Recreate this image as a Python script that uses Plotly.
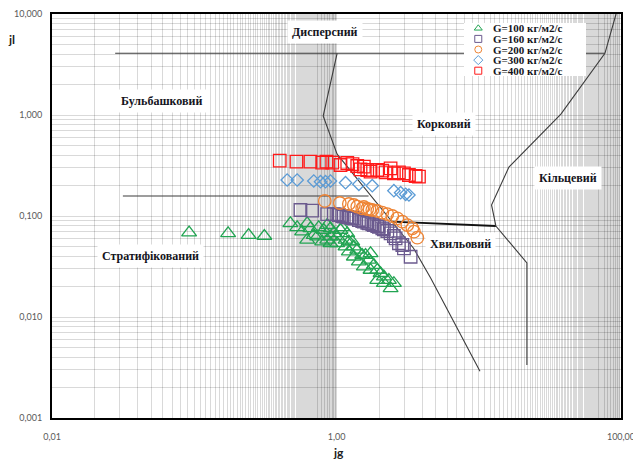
import numpy as np
import plotly.graph_objects as go

# ---- measured points: superficial gas velocity jg and liquid velocity jl ----
names = ["G=100 кг/м2/с", "G=160 кг/м2/с", "G=200 кг/м2/с", "G=300 кг/м2/с", "G=400 кг/м2/с"]

jg_100 = [0.092, 0.173, 0.241, 0.311,
          0.474, 0.529, 0.622, 0.656, 0.573, 0.622, 0.750, 0.814, 0.860, 0.907,
          0.957, 1.067, 1.011, 1.097, 1.190, 0.731, 0.793, 0.860, 0.907, 1.011,
          1.157, 1.221, 1.290, 1.324, 1.399, 1.517, 1.600, 1.735, 1.689, 1.831,
          1.934, 2.041, 2.154, 2.335, 2.532, 2.400, 1.735, 1.557, 1.934, 2.154,
          1.221, 1.324, 1.436, 1.157, 0.907, 0.692]
jl_100 = [0.0684, 0.0674, 0.0648, 0.0634,
          0.0847, 0.0773, 0.0847, 0.0755, 0.0699, 0.0579, 0.0773, 0.0727, 0.0814, 0.0755,
          0.0674, 0.0727, 0.0624, 0.0773, 0.0674, 0.0624, 0.0557, 0.0579, 0.0537, 0.0537,
          0.0579, 0.0557, 0.0557, 0.0497, 0.0461, 0.0411, 0.0411, 0.0427, 0.0367, 0.0327,
          0.0292, 0.0271, 0.0251, 0.0232, 0.0216, 0.0192, 0.0292, 0.0315, 0.0232, 0.0216,
          0.0443, 0.0395, 0.0353, 0.0497, 0.0624, 0.0648]

jg_160 = [0.558, 0.674, 0.860, 0.957, 1.038, 1.126, 1.221, 1.324, 1.436, 1.557,
          1.689, 1.831, 1.986, 2.154, 2.275, 2.400, 2.603, 2.747, 2.979, 3.320,
          1.011, 1.097, 1.190, 1.290, 1.517, 1.645, 1.784, 1.934, 2.098, 2.532, 2.902]
jl_160 = [0.1147, 0.1129, 0.1046, 0.1046, 0.1023, 0.0984, 0.0962, 0.0940, 0.0913, 0.0878,
          0.0847, 0.0814, 0.0783, 0.0738, 0.0710, 0.0674, 0.0601, 0.0537, 0.0479, 0.0395,
          0.1040, 0.1000, 0.0978, 0.0955, 0.0890, 0.0857, 0.0826, 0.0795, 0.0755, 0.0634, 0.0516]

jg_200 = [0.827, 1.055, 1.221, 1.324, 1.399, 1.517, 1.645, 1.784, 1.934, 2.098,
          2.275, 2.468, 2.676, 2.902, 3.147, 3.413, 3.701, 1.557, 1.708, 3.503]
jl_200 = [0.1408, 0.1345, 0.1315, 0.1285, 0.1237, 0.1192, 0.1173, 0.1147, 0.1121, 0.1078,
          0.1046, 0.1000, 0.0949, 0.0878, 0.0814, 0.0755, 0.0610, 0.1228, 0.1160, 0.0699]

jg_300 = [0.450, 0.529, 0.692, 0.772, 0.837, 0.907, 1.157, 1.436, 1.784, 2.532, 2.823, 3.062, 3.230]
jl_300 = [0.2272, 0.2272, 0.2221, 0.2186, 0.2186, 0.2221, 0.2137, 0.2060, 0.1995, 0.1780, 0.1701, 0.1640, 0.1614]

jg_400 = [0.399, 0.523, 0.656, 0.793, 0.933, 1.067, 1.399, 1.476, 1.557, 1.645, 1.735, 1.934,
          2.098, 2.213, 2.400, 2.532, 2.747, 2.979, 3.230, 3.600, 3.799, 0.850, 1.190, 1.296]
jl_400 = [0.3527, 0.3447, 0.3447, 0.3370, 0.3370, 0.3198, 0.3126, 0.2900, 0.3076, 0.2854, 0.2745, 0.2854,
          0.2809, 0.2708, 0.2967, 0.2647, 0.2708, 0.2647, 0.2546, 0.2489, 0.2449, 0.3447, 0.3347, 0.3270]

# ---- flow-regime boundaries (jg, jl) ----
bnd_dispersed_jg = [0.0278, 77.1]
bnd_dispersed_jl = [4.08, 4.08]
bnd_slug_jg = [1.01, 0.806, 1.01, 2.40, 3.48, 4.59, 10.2]
bnd_slug_jl = [4.08, 0.977, 0.41, 0.091, 0.048, 0.0243, 0.0029]
bnd_strat_jg = [0.0315, 1.68]
bnd_strat_jl = [0.158, 0.158]
bnd_wavy_jg = [2.44, 13.2]
bnd_wavy_jl = [0.088, 0.0796]
bnd_annular_jg = [21.8, 21.8, 13.2, 12.3, 16.3, 37.8, 77.1, 92.3]
bnd_annular_jl = [0.00335, 0.0343, 0.0796, 0.1286, 0.305, 1.02, 4.08, 10.0]

# ---- regime labels ----
regime_names = ["Дисперсний", "Бульбашковий", "Корковий", "Кільцевий", "Хвильовий", "Стратифікований"]
regime_jg = [0.83, 0.0592, 5.67, 42.2, 7.43, 0.049]
regime_jl = [6.68, 1.385, 0.815, 0.239, 0.0528, 0.0402]

# ---- axis ticks ----
x_ticks = [0.01, 1, 100]
x_ticktext = ["0,01", "1,00", "100,00"]
y_ticks = [0.001, 0.01, 0.1, 1, 10]
y_ticktext = ["0,001", "0,010", "0,100", "1,000", "10,000"]

# base-100 log axis: minor lines at every hundredth step of the major unit
x_minor = [k * 0.01 for k in range(2, 100)] + [float(k) for k in range(2, 100)]
y_minor = [m * 10.0 ** e for e in range(-3, 1) for m in range(2, 10)]

W, H = 633, 462
ML, MR, MT, MB = 52, 12, 14, 44
PW, PH = W - ML - MR, H - MT - MB


def px_x(p):
    return (p - ML) / PW


def px_y(p):
    return (H - MB - p) / PH


grid = "rgba(0,0,0,0.15)"
line_col = "#3c3c3c"
label_col = "#141420"

fig = go.Figure()

for xs, ys, w, c in [
    (bnd_dispersed_jg, bnd_dispersed_jl, 1.1, line_col),
    (bnd_slug_jg, bnd_slug_jl, 1.1, line_col),
    (bnd_strat_jg, bnd_strat_jl, 1.1, line_col),
    (bnd_wavy_jg, bnd_wavy_jl, 1.8, "#111111"),
    (bnd_annular_jg, bnd_annular_jl, 1.1, line_col),
]:
    fig.add_trace(go.Scatter(x=xs, y=ys, mode="lines", line=dict(color=c, width=w),
                             hoverinfo="skip", showlegend=False))

styles = [
    ("triangle-up-open", "#22a452", 13),
    ("square-open", "#6b5a8e", 12.5),
    ("circle-open", "#ee8434", 12.5),
    ("diamond-open", "#5b9bd5", 9.5),
    ("square-open", "#ff1a1a", 12.5),
]
data = [(jg_100, jl_100), (jg_160, jl_160), (jg_200, jl_200), (jg_300, jl_300), (jg_400, jl_400)]

for name, (xs, ys), (sym, col, size) in zip(names, data, styles):
    fig.add_trace(go.Scatter(x=xs, y=ys, mode="markers", name=name,
                             marker=dict(symbol=sym, size=size, color=col, line=dict(width=1.3)),
                             showlegend=False))

# legend panel drawn as its own small subplot so it sits above the map
lx0, lx1, ly0, ly1 = 464, 586, 23, 76
fig.add_trace(go.Scatter(x=[0, 1, 1, 0, 0], y=[0, 0, 1, 1, 0], fill="toself", fillcolor="white",
                         mode="lines", line=dict(width=0, color="white"),
                         xaxis="x2", yaxis="y2", hoverinfo="skip", showlegend=False))
n = len(names)
row_y = [1 - (i + 0.5) / n for i in range(n)]
for i, (name, (sym, col, size)) in enumerate(zip(names, styles)):
    fig.add_trace(go.Scatter(x=[0.117], y=[row_y[i]], mode="markers",
                             marker=dict(symbol=sym, size=7, color=col, line=dict(width=1)),
                             xaxis="x2", yaxis="y2", hoverinfo="skip", showlegend=False))
    fig.add_annotation(x=0.219, y=row_y[i], xref="x2", yref="y2", text=f"<b>{name}</b>",
                       xanchor="left", yanchor="middle", showarrow=False,
                       font=dict(family="Liberation Serif", size=11, color=label_col))

for name, gx, ly in zip(regime_names, regime_jg, regime_jl):
    fig.add_annotation(x=np.log10(gx), y=np.log10(ly), xref="x", yref="y",
                       xanchor="center", yanchor="middle",
                       text=f"<b>{name}</b>", showarrow=False, bgcolor="white", borderpad=4,
                       font=dict(family="Liberation Serif", size=12, color=label_col))

fig.add_annotation(x=px_x(11), y=px_y(39), xref="paper", yref="paper", text="<b>jl</b>",
                   xanchor="center", yanchor="middle",
                   showarrow=False, font=dict(family="Lato", size=12, color="#222222"))
fig.add_annotation(x=px_x(338), y=px_y(452), xref="paper", yref="paper", text="<b>jg</b>",
                   xanchor="center", yanchor="middle",
                   showarrow=False, font=dict(family="Lato", size=12, color="#222222"))

axis_common = dict(showline=True, mirror=True, linecolor="black", linewidth=2, ticks="",
                   showgrid=True, gridcolor=grid, gridwidth=1, zeroline=False, automargin=False,
                   ticklabeloverflow="allow",
                   tickfont=dict(family="Lato", size=9, color="#595959"))

fig.update_layout(
    width=W, height=H,
    margin=dict(l=ML, r=MR, t=MT, b=MB),
    paper_bgcolor="white", plot_bgcolor="white",
    showlegend=False,
    xaxis=dict(type="log", range=[-2, 2], tickmode="array", tickvals=x_ticks, ticktext=x_ticktext,
               ticklabelstandoff=9,
               minor=dict(tickmode="array", tickvals=x_minor, showgrid=True, gridcolor=grid, ticks=""),
               **axis_common),
    yaxis=dict(type="log", range=[-3, 1], tickmode="array", tickvals=y_ticks, ticktext=y_ticktext,
               ticklabelstandoff=6,
               minor=dict(tickmode="array", tickvals=y_minor, showgrid=True, gridcolor=grid, ticks=""),
               **axis_common),
    xaxis2=dict(domain=[px_x(lx0), px_x(lx1)], range=[0, 1], visible=False, anchor="y2", fixedrange=True),
    yaxis2=dict(domain=[px_y(ly1), px_y(ly0)], range=[0, 1], visible=False, anchor="x2", fixedrange=True),
)

fig.write_html("out.html")
